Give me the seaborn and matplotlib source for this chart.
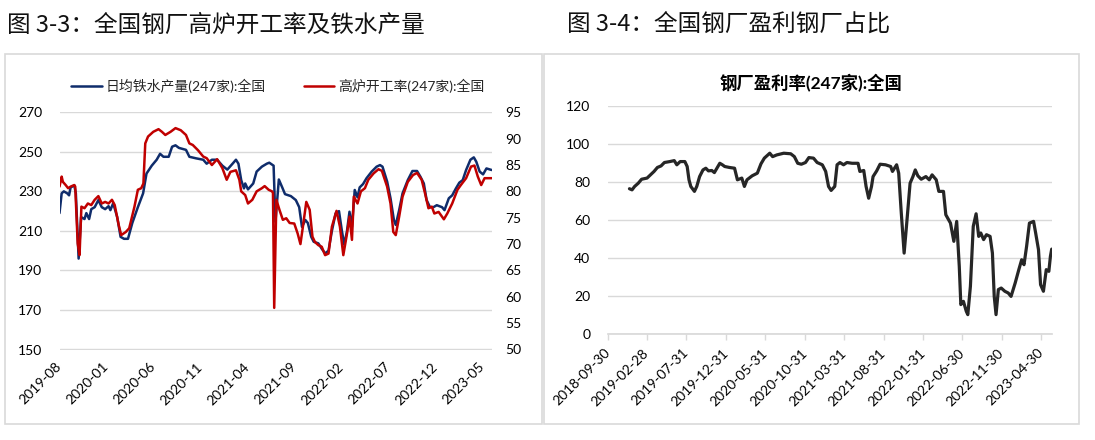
import matplotlib
matplotlib.use("Agg")
import matplotlib.pyplot as plt
import matplotlib.patches as patches
import pandas as pd
import seaborn as sns

# 图3-3：日均铁水产量(左轴, 万吨) 与 高炉开工率(右轴, %)
iron_dates = [
    "2019-08-01", "2019-08-08", "2019-08-15", "2019-08-26", "2019-09-01", "2019-09-06", "2019-09-18", "2019-09-23", "2019-10-02", "2019-10-10",
    "2019-10-21", "2019-10-27", "2019-11-05", "2019-11-12", "2019-11-23", "2019-12-05", "2019-12-16", "2019-12-27", "2020-01-07", "2020-01-13",
    "2020-01-22", "2020-02-04", "2020-02-15", "2020-02-26", "2020-03-10", "2020-03-24", "2020-04-11", "2020-04-28", "2020-05-09", "2020-05-26",
    "2020-06-11", "2020-06-22", "2020-07-03", "2020-07-20", "2020-07-31", "2020-08-11", "2020-08-22", "2020-09-14", "2020-09-25", "2020-10-17",
    "2020-11-09", "2020-11-20", "2020-12-07", "2020-12-24", "2021-01-10", "2021-01-26", "2021-02-12", "2021-02-23", "2021-03-03", "2021-03-12",
    "2021-03-21", "2021-03-25", "2021-04-03", "2021-04-20", "2021-05-01", "2021-05-18", "2021-06-03", "2021-06-11", "2021-06-25", "2021-07-01",
    "2021-07-12", "2021-07-23", "2021-08-01", "2021-08-20", "2021-09-05", "2021-09-16", "2021-09-25", "2021-10-06", "2021-10-14", "2021-10-25",
    "2021-11-02", "2021-11-17", "2021-11-28", "2021-12-09", "2021-12-20", "2021-12-31", "2022-01-12", "2022-01-23", "2022-02-01", "2022-02-09",
    "2022-02-18", "2022-02-26", "2022-03-06", "2022-03-15", "2022-03-24", "2022-03-31", "2022-04-11", "2022-04-22", "2022-05-09", "2022-05-25",
    "2022-06-05", "2022-06-13", "2022-06-28", "2022-07-09", "2022-07-20", "2022-07-26", "2022-08-06", "2022-08-17", "2022-09-03", "2022-09-18",
    "2022-10-03", "2022-10-14", "2022-10-25", "2022-11-03", "2022-11-14", "2022-11-25", "2022-12-06", "2022-12-23", "2022-12-31", "2023-01-14",
    "2023-01-25", "2023-02-06", "2023-02-17", "2023-02-28", "2023-03-11", "2023-03-25", "2023-04-05", "2023-04-13", "2023-04-24", "2023-05-05",
    "2023-05-16", "2023-06-02",
]
iron_output = [
    219, 229, 230, 229, 228, 232, 233, 229, 196, 217,
    216, 219, 216, 221, 222, 225.6, 222, 221, 222.5, 220.5,
    224, 217, 207, 206, 206, 214, 222, 229, 239, 243,
    246, 249, 247.5, 247.5, 252.6, 253.3, 252, 251, 247.5, 246.7,
    246, 244, 246, 246, 243, 241, 244, 246, 244, 235.7,
    231.5, 234, 231, 234, 240, 242.5, 244, 244.5, 243, 214.6,
    236, 232, 228.6, 227.6, 225.6, 222, 212, 215.5, 214, 207,
    204.5, 203.7, 201, 198.6, 200, 210, 218.9, 220, 210.4, 203,
    210, 219.7, 212, 230.7, 227, 232, 233.7, 236.6, 240, 242.5,
    243.3, 242.5, 235, 226.5, 215.5, 213, 220.5, 229, 235.7, 240.3,
    240.3, 237.4, 234, 225.6, 222, 222, 223, 222, 220.5, 226.5,
    228, 231.5, 234.4, 235.7, 240.8, 246, 247.2, 245, 240, 238.6,
    241.6, 240.8,
]

bf_dates = [
    "2019-08-01", "2019-08-08", "2019-08-12", "2019-08-21", "2019-08-29", "2019-09-06", "2019-09-18", "2019-09-21", "2019-09-29", "2019-10-05",
    "2019-10-11", "2019-10-21", "2019-11-01", "2019-11-12", "2019-11-23", "2019-12-05", "2019-12-16", "2019-12-27", "2020-01-07", "2020-01-18",
    "2020-01-27", "2020-02-09", "2020-02-17", "2020-03-03", "2020-03-14", "2020-03-31", "2020-04-11", "2020-04-22", "2020-04-29", "2020-05-05",
    "2020-05-14", "2020-05-31", "2020-06-17", "2020-06-28", "2020-07-09", "2020-07-26", "2020-08-11", "2020-08-28", "2020-09-14", "2020-09-25",
    "2020-10-06", "2020-10-23", "2020-11-09", "2020-11-20", "2020-12-07", "2020-12-24", "2021-01-10", "2021-01-24", "2021-02-05", "2021-02-23",
    "2021-03-06", "2021-03-12", "2021-03-25", "2021-04-03", "2021-04-17", "2021-05-01", "2021-05-18", "2021-05-27", "2021-06-09", "2021-06-20",
    "2021-06-23", "2021-06-27", "2021-07-04", "2021-07-14", "2021-07-25", "2021-08-05", "2021-08-16", "2021-08-31", "2021-09-11", "2021-09-20",
    "2021-09-28", "2021-10-09", "2021-10-20", "2021-10-29", "2021-11-06", "2021-11-17", "2021-11-28", "2021-12-09", "2021-12-20", "2021-12-31",
    "2022-01-15", "2022-01-26", "2022-02-06", "2022-02-18", "2022-02-26", "2022-03-06", "2022-03-12", "2022-03-24", "2022-04-04", "2022-04-17",
    "2022-04-28", "2022-05-15", "2022-05-31", "2022-06-11", "2022-06-28", "2022-07-09", "2022-07-18", "2022-07-26", "2022-08-06", "2022-08-17",
    "2022-09-03", "2022-09-20", "2022-10-03", "2022-10-18", "2022-10-29", "2022-11-09", "2022-11-20", "2022-11-28", "2022-12-12", "2022-12-29",
    "2023-01-09", "2023-01-25", "2023-02-11", "2023-02-22", "2023-03-11", "2023-03-27", "2023-04-07", "2023-04-18", "2023-04-29", "2023-05-10",
    "2023-06-02",
]
bf_rate = [
    80.9, 82.8, 81.8, 81.2, 80.6, 80.9, 81.2, 80.9, 70.1, 67.9,
    77.1, 76.8, 77.7, 77.4, 78.4, 79.1, 77.7, 78.0, 77.7, 78.4,
    77.4, 73.6, 71.7, 72.3, 73.0, 77.1, 80.3, 80.6, 81.5, 89.1,
    90.4, 91.3, 91.8, 91.3, 90.7, 91.3, 92.0, 91.6, 90.7, 89.1,
    88.8, 87.8, 86.6, 86.3, 85.0, 86.1, 84.4, 82.2, 83.7, 84.0,
    82.2, 80.0, 79.3, 77.7, 78.4, 80.0, 80.6, 81.0, 80.3, 80.0,
    79.7, 57.9, 78.4, 76.5, 74.6, 74.9, 74.0, 73.9, 72.0, 70.0,
    73.3, 78.0, 76.5, 71.4, 70.4, 69.8, 69.5, 67.9, 68.2, 73.3,
    76.3, 73.3, 67.9, 72.0, 75.2, 70.8, 79.0, 77.7, 80.0, 80.6,
    82.2, 83.4, 84.2, 83.9, 80.9, 77.7, 72.3, 71.7, 75.2, 79.0,
    81.8, 83.1, 83.5, 82.2, 79.6, 76.8, 77.1, 75.8, 76.1, 74.7,
    75.8, 77.7, 80.3, 81.2, 82.5, 84.7, 84.9, 82.8, 81.2, 82.5,
    82.5,
]

# 图3-4：钢厂盈利率(%)
profit_dates = [
    "2018-12-23", "2019-01-02", "2019-01-12", "2019-01-26", "2019-02-08", "2019-03-01", "2019-03-14", "2019-03-28", "2019-04-10", "2019-04-24",
    "2019-05-07", "2019-05-28", "2019-06-14", "2019-06-24", "2019-07-07", "2019-07-25", "2019-08-03", "2019-08-10", "2019-08-17", "2019-08-31",
    "2019-09-09", "2019-09-20", "2019-10-03", "2019-10-14", "2019-10-24", "2019-11-06", "2019-11-16", "2019-11-26", "2019-12-07", "2019-12-17",
    "2019-12-26", "2020-01-13", "2020-02-02", "2020-02-13", "2020-03-01", "2020-03-11", "2020-03-21", "2020-04-10", "2020-04-30", "2020-05-14",
    "2020-05-27", "2020-06-17", "2020-06-28", "2020-07-14", "2020-08-10", "2020-09-06", "2020-09-20", "2020-10-03", "2020-10-17", "2020-11-02",
    "2020-11-15", "2020-12-03", "2020-12-17", "2021-01-06", "2021-01-19", "2021-01-30", "2021-02-09", "2021-02-23", "2021-03-04", "2021-03-15",
    "2021-03-29", "2021-04-11", "2021-05-01", "2021-05-24", "2021-05-31", "2021-06-15", "2021-06-24", "2021-07-04", "2021-07-15", "2021-07-21",
    "2021-08-04", "2021-08-17", "2021-09-07", "2021-09-27", "2021-10-04", "2021-10-20", "2021-10-28", "2021-11-07", "2021-11-18", "2021-11-27",
    "2021-12-11", "2021-12-22", "2021-12-31", "2022-01-10", "2022-01-23", "2022-02-10", "2022-02-23", "2022-03-06", "2022-03-22", "2022-04-01",
    "2022-04-19", "2022-04-28", "2022-05-16", "2022-05-29", "2022-06-09", "2022-06-19", "2022-06-25", "2022-07-05", "2022-07-16", "2022-07-22",
    "2022-08-01", "2022-08-12", "2022-08-23", "2022-09-02", "2022-09-10", "2022-09-21", "2022-10-02", "2022-10-16", "2022-10-25", "2022-11-01",
    "2022-11-08", "2022-11-17", "2022-11-28", "2022-12-12", "2022-12-25", "2023-01-05", "2023-01-21", "2023-02-04", "2023-02-15", "2023-02-24",
    "2023-03-06", "2023-03-17", "2023-04-02", "2023-04-10", "2023-04-21", "2023-04-29", "2023-05-10", "2023-05-21", "2023-05-31", "2023-06-06",
    "2023-06-11",
]
profit_rate = [
    76.6, 76.0, 77.8, 79.5, 81.6, 82.2, 83.9, 85.7, 87.8, 88.6,
    90.4, 90.9, 91.4, 89.2, 90.9, 90.9, 88.3, 81.3, 77.8, 75.2,
    77.8, 83.0, 86.5, 87.4, 86.0, 86.2, 85.1, 87.4, 90.0, 89.2,
    88.3, 87.8, 87.4, 81.3, 82.2, 77.8, 81.3, 83.4, 84.8, 89.7,
    92.7, 95.3, 93.5, 94.4, 95.3, 95.0, 93.5, 90.0, 89.5, 90.4,
    93.0, 92.7, 90.4, 89.2, 85.7, 77.8, 75.7, 77.8, 89.2, 90.4,
    89.2, 90.4, 90.0, 90.0, 85.7, 86.2, 77.8, 71.6, 77.8, 83.0,
    86.0, 89.5, 89.2, 88.3, 85.7, 89.2, 84.8, 63.8, 42.7, 56.8,
    79.5, 83.0, 86.5, 83.4, 81.6, 83.0, 81.3, 83.9, 81.3, 75.2,
    75.2, 62.9, 58.5, 48.9, 59.4, 35.7, 15.6, 17.3, 12.1, 10.3,
    25.2, 56.8, 63.4, 51.5, 53.3, 49.8, 52.4, 51.5, 42.7, 19.9,
    10.3, 23.5, 24.3, 22.6, 21.7, 19.9, 27.0, 34.0, 39.2, 36.6,
    46.2, 58.5, 59.4, 53.3, 44.5, 26.1, 22.6, 34.0, 33.1, 41.0,
    44.8,
]

iron_label = "日均铁水产量(247家):全国"
bf_label = "高炉开工率(247家):全国"
profit_title = "钢厂盈利率(247家):全国"
left_fig_title = "图 3-3：全国钢厂高炉开工率及铁水产量"
right_fig_title = "图 3-4：全国钢厂盈利钢厂占比"

iron_yticks = list(range(150, 271, 20))
bf_yticks = list(range(50, 96, 5))
profit_yticks = list(range(0, 121, 20))

iron_df = pd.DataFrame({"date": pd.to_datetime(iron_dates), "value": iron_output})
bf_df = pd.DataFrame({"date": pd.to_datetime(bf_dates), "value": bf_rate})
profit_df = pd.DataFrame({"date": pd.to_datetime(profit_dates), "value": profit_rate})

sns.set_theme(style="white")
plt.rcParams["font.family"] = ["Lato", "Noto Sans CJK SC", "DejaVu Sans"]
plt.rcParams["axes.unicode_minus"] = False

W, H = 1095, 440
fig = plt.figure(figsize=(W / 100, H / 100), dpi=100)


def fx(px):
    return px / W


def fy(py):
    return 1 - py / H


GRID = "#d9d9d9"
BLUE = "#0f2c6b"
RED = "#c00000"
CJK = ["Noto Sans CJK SC", "DejaVu Sans"]

# 外框
for x0, x1 in [(5, 542), (544, 1079)]:
    fig.add_artist(patches.Rectangle((fx(x0), fy(424)), (x1 - x0) / W, 370 / H,
                                     transform=fig.transFigure, fill=False,
                                     edgecolor=GRID, linewidth=1.2))

fig.text(fx(7), fy(25), left_fig_title, ha="left", va="center",
         fontsize=17, family=CJK, color="#111111")
fig.text(fx(567), fy(25), right_fig_title, ha="left", va="center",
         fontsize=17, family=CJK, color="#111111")

# ---------------- 左图 ----------------
ax1 = fig.add_axes([fx(59.5), fy(349.5), 432.2 / W, 237.2 / H])
ax2 = ax1.twinx()
sns.lineplot(data=iron_df, x="date", y="value", ax=ax1, color=BLUE, linewidth=1.8)
sns.lineplot(data=bf_df, x="date", y="value", ax=ax2, color=RED, linewidth=1.8)

ax1.set_xlim(pd.Timestamp("2019-08-01"), pd.Timestamp("2023-06-02"))
ax1.set_ylim(150, 270)
ax2.set_ylim(50, 95)
ax1.set_yticks(iron_yticks)
ax2.set_yticks(bf_yticks)
ax1.grid(axis="y", color=GRID, linewidth=1)
ax1.set_axisbelow(True)

left_xticks = pd.date_range("2019-08-01", periods=10, freq=pd.offsets.MonthBegin(5))
ax1.set_xticks(left_xticks)
ax1.set_xticklabels([d.strftime("%Y-%m") for d in left_xticks], rotation=45,
                    ha="right", va="center", rotation_mode="anchor")
for a in (ax1, ax2):
    a.set_xlabel("")
    a.set_ylabel("")
    for s in a.spines.values():
        s.set_visible(False)
ax1.tick_params(axis="x", length=0, pad=11, labelsize=10, colors="black")
ax1.tick_params(axis="y", length=0, pad=12.5, labelsize=10, colors="black")
ax2.tick_params(axis="y", length=0, pad=10, labelsize=10, colors="black")

fig.legend([ax1.lines[0], ax2.lines[0]], [iron_label, bf_label],
           loc="center", bbox_to_anchor=(fx(278), fy(86)), ncol=2, frameon=False,
           fontsize=10, handlelength=2.2, handletextpad=0.3, columnspacing=2.7)

# ---------------- 右图 ----------------
ax3 = fig.add_axes([fx(607.7), fy(334.2), 444 / W, 227.9 / H])
sns.lineplot(data=profit_df, x="date", y="value", ax=ax3, color="#262626", linewidth=2.3)
ax3.set_xlim(pd.Timestamp("2018-09-30"), pd.Timestamp("2023-06-11"))
ax3.set_ylim(0, 120)
ax3.set_yticks(profit_yticks)
ax3.grid(axis="y", color=GRID, linewidth=1)
ax3.set_axisbelow(True)
right_xticks = pd.date_range("2018-09-30", periods=12, freq=pd.offsets.MonthEnd(5))
ax3.set_xticks(right_xticks)
ax3.set_xticklabels([d.strftime("%Y-%m-%d") for d in right_xticks], rotation=45,
                    ha="right", va="center", rotation_mode="anchor")
ax3.set_xlabel("")
ax3.set_ylabel("")
for name, s in ax3.spines.items():
    s.set_visible(name == "bottom")
ax3.spines["bottom"].set_color(GRID)
ax3.tick_params(axis="x", length=4, width=1, color=GRID, direction="out",
                pad=8, labelsize=10, labelcolor="black", bottom=True)
ax3.tick_params(axis="y", length=0, pad=12.5, labelsize=10, colors="black")

fig.text(fx(811), fy(83), profit_title, ha="center", va="center",
         fontsize=12.5, fontweight="bold", color="black")

fig.savefig("out.png", dpi=100, facecolor="white")
